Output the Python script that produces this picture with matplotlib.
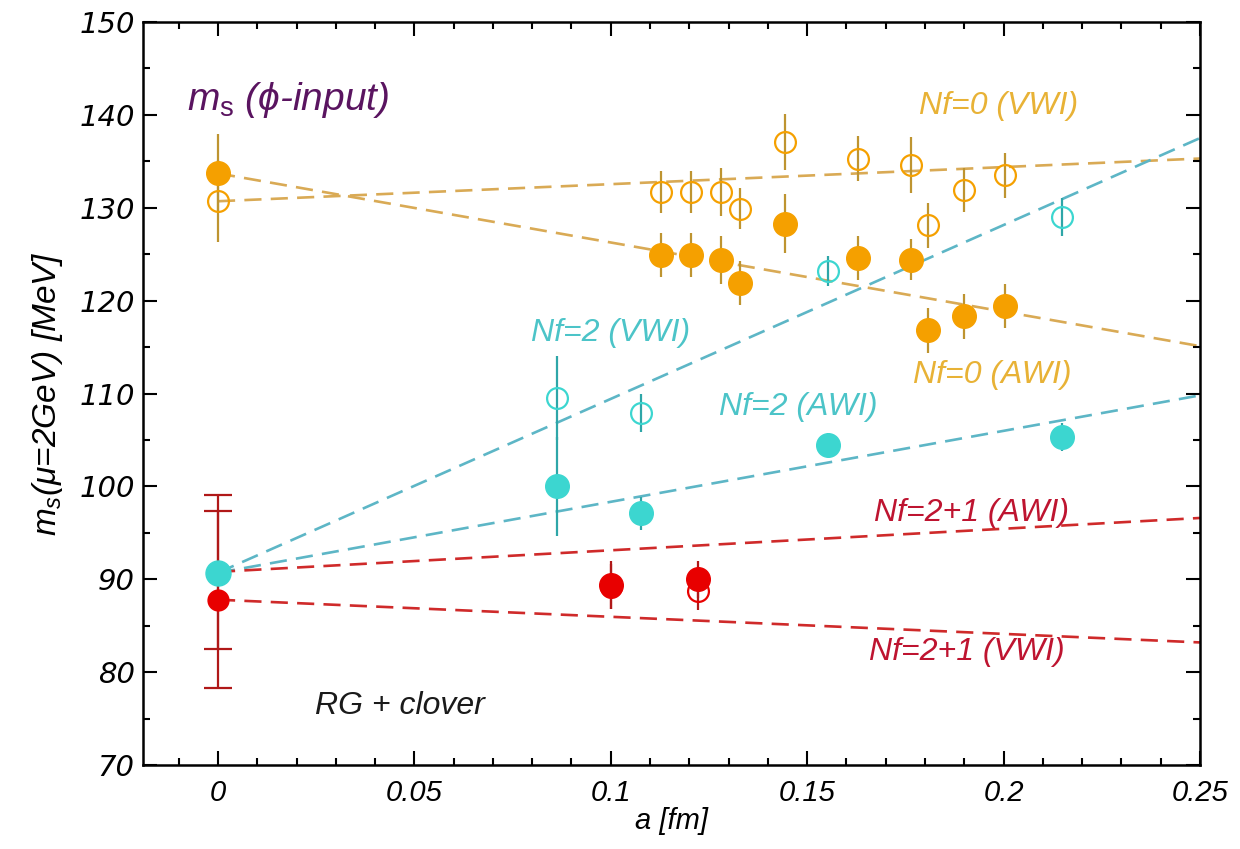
import numpy as np
import matplotlib
matplotlib.use("Agg")
import matplotlib.pyplot as plt
from matplotlib.ticker import MultipleLocator

# lattice spacing a [fm] and strange quark mass m_s(2 GeV) [MeV]
a_nf0 = [0.1128, 0.1204, 0.1280, 0.1330, 0.1444, 0.1630, 0.1764, 0.1808, 0.1900, 0.2003]
ms_nf0_awi = [124.9, 124.9, 124.4, 121.9, 128.3, 124.6, 124.4, 116.8, 118.3, 119.4]
err_nf0_awi = [2.4, 2.4, 2.6, 2.4, 3.2, 2.4, 2.2, 2.4, 2.4, 2.4]
ms_nf0_vwi = [131.7, 131.7, 131.7, 129.9, 137.1, 135.3, 134.6, 128.1, 131.9, 133.5]
err_nf0_vwi = [2.3, 2.3, 2.6, 2.2, 3.0, 2.4, 3.0, 2.4, 2.4, 2.4]

a_nf2 = [0.0864, 0.1077, 0.1553, 0.2148]
ms_nf2_awi = [100.0, 97.1, 104.5, 105.3]
err_nf2_awi = [5.3, 1.8, 1.2, 1.5]
ms_nf2_vwi = [109.5, 107.9, 123.2, 129.0]
err_nf2_vwi = [4.5, 2.0, 1.6, 2.0]

a_nf21 = [0.1000, 0.1221]
ms_nf21_awi = [89.4, 90.0]
err_nf21_awi = [2.6, 2.0]
ms_nf21_vwi = [89.2, 88.7]
err_nf21_vwi = [2.4, 2.0]

# continuum extrapolated values at a = 0
cont_nf0_awi, cont_nf0_awi_err = 133.7, 4.2
cont_nf0_vwi, cont_nf0_vwi_err = 130.7, 4.4
cont_nf2 = 90.7
cont_nf21_awi, cont_nf21_awi_err = 90.8, 8.3
cont_nf21_vwi, cont_nf21_vwi_err = 87.8, 9.5

# linear continuum fits: (intercept, slope)
fit_nf0_awi = (133.7, -74.4)
fit_nf0_vwi = (130.7, 18.4)
fit_nf2_awi = (90.7, 76.4)
fit_nf2_vwi = (90.7, 187.2)
fit_nf21_awi = (90.8, 23.2)
fit_nf21_vwi = (87.8, -18.4)

ORANGE = "#F5A000"
ORANGE_ERR = "#BE9430"
ORANGE_LINE = "#D9AA55"
ORANGE_TEXT = "#E8B236"
CYAN = "#3CD6D0"
CYAN_ERR = "#2EA6A8"
CYAN_LINE = "#5DB6C6"
CYAN_TEXT = "#4CC4C8"
RED = "#E80000"
RED_ERR = "#B01818"
RED_LINE = "#CF2A2A"
RED_TEXT = "#BE1430"

plt.rcParams["font.family"] = ["Liberation Sans", "DejaVu Sans"]
plt.rcParams["mathtext.fontset"] = "custom"
plt.rcParams["mathtext.it"] = "Liberation Sans:italic"
plt.rcParams["mathtext.rm"] = "Liberation Sans"

fig = plt.figure(figsize=(12.4, 8.49), dpi=100)
ax = fig.add_axes([0.1153, 0.0989, 0.8524, 0.8752])

dash = (0, (6.5, 3.5))
xfit = np.linspace(0.0, 0.25, 50)
for (b, m), col in [(fit_nf0_awi, ORANGE_LINE), (fit_nf0_vwi, ORANGE_LINE),
                    (fit_nf2_awi, CYAN_LINE), (fit_nf2_vwi, CYAN_LINE),
                    (fit_nf21_awi, RED_LINE), (fit_nf21_vwi, RED_LINE)]:
    ax.plot(xfit, b + m * xfit, linestyle=dash, color=col, linewidth=1.9, zorder=1)


def filled(x, y, err, color, ecolor, ms=17, **kw):
    ax.errorbar(x, y, yerr=err, fmt="o", ms=ms, color=color, mec=color,
                ecolor=ecolor, elinewidth=1.6, capsize=0, zorder=3, **kw)


def hollow(x, y, err, color, ecolor, ms=15):
    ax.errorbar(x, y, yerr=err, fmt="o", ms=ms, mfc="none", mec=color, mew=1.6,
                ecolor=ecolor, elinewidth=1.6, capsize=0, zorder=3)


# quenched
hollow(a_nf0, ms_nf0_vwi, err_nf0_vwi, ORANGE, ORANGE_ERR)
filled(a_nf0, ms_nf0_awi, err_nf0_awi, ORANGE, ORANGE_ERR)
hollow([0.0], [cont_nf0_vwi], [cont_nf0_vwi_err], ORANGE, ORANGE_ERR)
filled([0.0], [cont_nf0_awi], [cont_nf0_awi_err], ORANGE, ORANGE_ERR)

# two flavours
hollow(a_nf2, ms_nf2_vwi, err_nf2_vwi, CYAN, CYAN_ERR)
filled(a_nf2, ms_nf2_awi, err_nf2_awi, CYAN, CYAN_ERR)

# 2+1 flavours
ax.errorbar([0.0], [cont_nf21_awi], yerr=[cont_nf21_awi_err], fmt="none",
            ecolor=RED_ERR, elinewidth=1.6, capsize=10, capthick=1.6, zorder=2)
ax.errorbar([0.0], [cont_nf21_vwi], yerr=[cont_nf21_vwi_err], fmt="o", ms=15,
            color=RED, ecolor=RED_ERR, elinewidth=1.6, capsize=10, capthick=1.6, zorder=2)
hollow(a_nf21, ms_nf21_vwi, err_nf21_vwi, RED, RED_ERR, ms=15)
filled(a_nf21, ms_nf21_awi, err_nf21_awi, RED, RED_ERR, ms=17)
filled([0.0], [cont_nf2], None, CYAN, CYAN_ERR, ms=18)

# annotations
lab = dict(style="italic", fontsize=23, ha="center", va="center")
ax.text(0.1988, 141.0, "Nf=0 (VWI)", color=ORANGE_TEXT, **lab)
ax.text(0.1970, 112.0, "Nf=0 (AWI)", color=ORANGE_TEXT, **lab)
ax.text(0.1000, 116.5, "Nf=2 (VWI)", color=CYAN_TEXT, **lab)
ax.text(0.1477, 108.5, "Nf=2 (AWI)", color=CYAN_TEXT, **lab)
ax.text(0.1918, 97.1, "Nf=2+1 (AWI)", color=RED_TEXT, **lab)
ax.text(0.1906, 82.2, "Nf=2+1 (VWI)", color=RED_TEXT, **lab)
ax.text(0.0464, 76.4, "RG + clover", color="#1a1a1a", **lab)
ax.text(-0.0078, 141.6, "$m_{\\mathrm{s}}$ (\u03d5-input)", color="#5A1460",
        style="italic", fontsize=28, ha="left", va="center")

ax.set_xlim(-0.0191, 0.25)
ax.set_ylim(70, 150)
ax.xaxis.set_major_locator(MultipleLocator(0.05))
ax.xaxis.set_minor_locator(MultipleLocator(0.01))
ax.yaxis.set_major_locator(MultipleLocator(10))
ax.yaxis.set_minor_locator(MultipleLocator(5))
ax.set_xticks([0, 0.05, 0.1, 0.15, 0.2, 0.25])
ax.set_xticklabels(["0", "0.05", "0.1", "0.15", "0.2", "0.25"])
ax.tick_params(which="both", direction="in", top=True, right=True, width=1.5)
ax.tick_params(which="major", length=10)
ax.tick_params(which="minor", length=5)
ax.tick_params(axis="x", which="major", pad=10)
ax.tick_params(axis="y", which="major", pad=6)
for t in ax.get_xticklabels():
    t.set_style("italic")
    t.set_fontsize(21)
for t in ax.get_yticklabels():
    t.set_family("DejaVu Sans")
    t.set_style("italic")
    t.set_fontsize(21)
for s in ax.spines.values():
    s.set_linewidth(1.8)

ax.set_xlabel("a [fm]", style="italic", fontsize=21, labelpad=0)
ax.set_ylabel("$m_s$(\u03bc=2GeV) [MeV]", style="italic", fontsize=24, labelpad=10)

fig.savefig("out.png", dpi=100)
